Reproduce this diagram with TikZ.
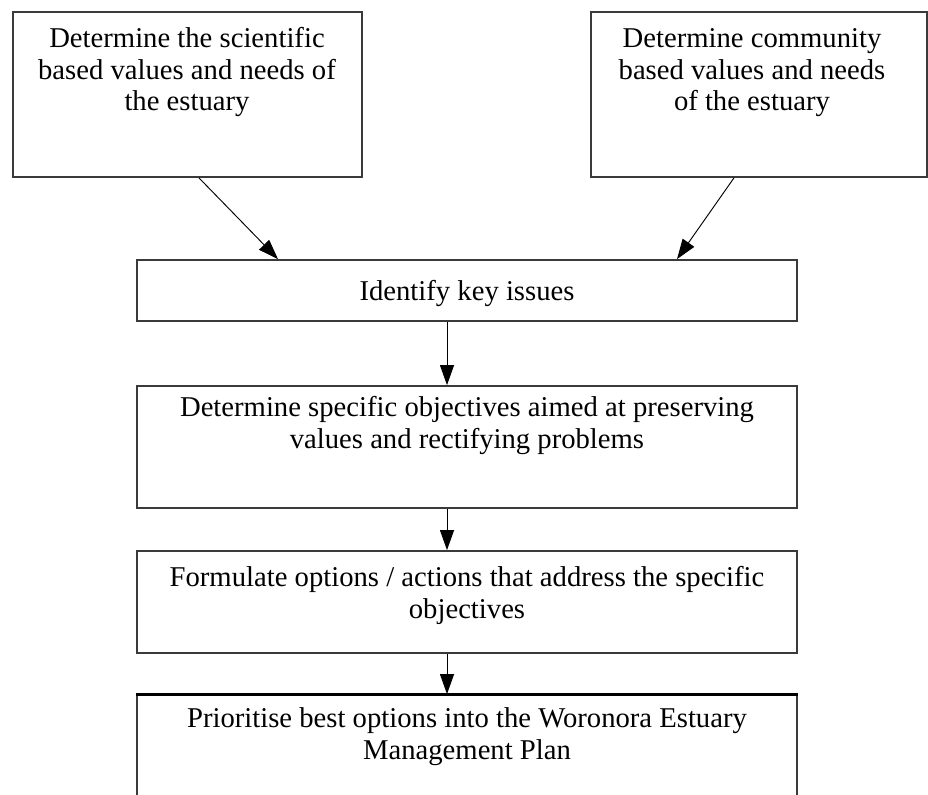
\documentclass[tikz,border=0pt]{standalone}
\usepackage{fontspec}
\setmainfont{Liberation Serif}
\usetikzlibrary{arrows.meta}
\definecolor{edge}{HTML}{3A3A3A}

\begin{document}
\begin{tikzpicture}[x=0.75pt,y=-0.75pt,font=\fontsize{21.5}{23.6}\selectfont,
  >={Triangle[length=15pt,width=10.5pt]},
  box/.style={draw=edge,line width=1.3pt,inner sep=0pt},
  lbl/.style={anchor=north,align=center,inner sep=0pt},
  flow/.style={->,line width=0.7pt}]
  \clip (0,0) rectangle (928,795);
  \node[box,minimum width=261.75pt,minimum height=123.75pt] (sci) at (187.5,94.5) {};
  \node[box,minimum width=252pt,minimum height=123.75pt] (com) at (759,94.5) {};
  \node[box,minimum width=495pt,minimum height=45.75pt] (key) at (467,290.5) {};
  \node[box,minimum width=495pt,minimum height=91.5pt] (obj) at (467,447) {};
  \node[box,minimum width=495pt,minimum height=76.5pt] (opt) at (467,602) {};
  \node[box,minimum width=495pt,minimum height=108.75pt] (plan) at (467,767.5) {};
  \draw[line width=2.2pt] (plan.north west) -- (plan.north east);

  \node[lbl] (scit) at (187,27.4) {Determine the scientific\\based values and needs of\\the estuary};
  \node[lbl] (comt) at (752,28.4) {Determine community\\based values and needs\\of the estuary};
  \node[lbl] (keyt) at (467,280.4) {Identify key issues};
  \node[lbl] (objt) at (467,396.4) {Determine specific objectives aimed at preserving\\values and rectifying problems};
  \node[lbl] (optt) at (467,566.4) {Formulate options / actions that address the specific\\objectives};
  \node[lbl] (plant) at (467,707.4) {Prioritise best options into the Woronora Estuary\\Management Plan};

  \draw[flow] ([xshift=8.6pt]sci.south) -- ([xshift=-141.75pt]key.north);
  \draw[flow] ([xshift=-18.75pt]com.south) -- ([xshift=157.5pt]key.north);
  \foreach \a/\b in {key/obj,obj/opt,opt/plan}
    \draw[flow] ([xshift=-15pt]\a.south) -- ([xshift=-15pt]\b.north);
\end{tikzpicture}
\end{document}
